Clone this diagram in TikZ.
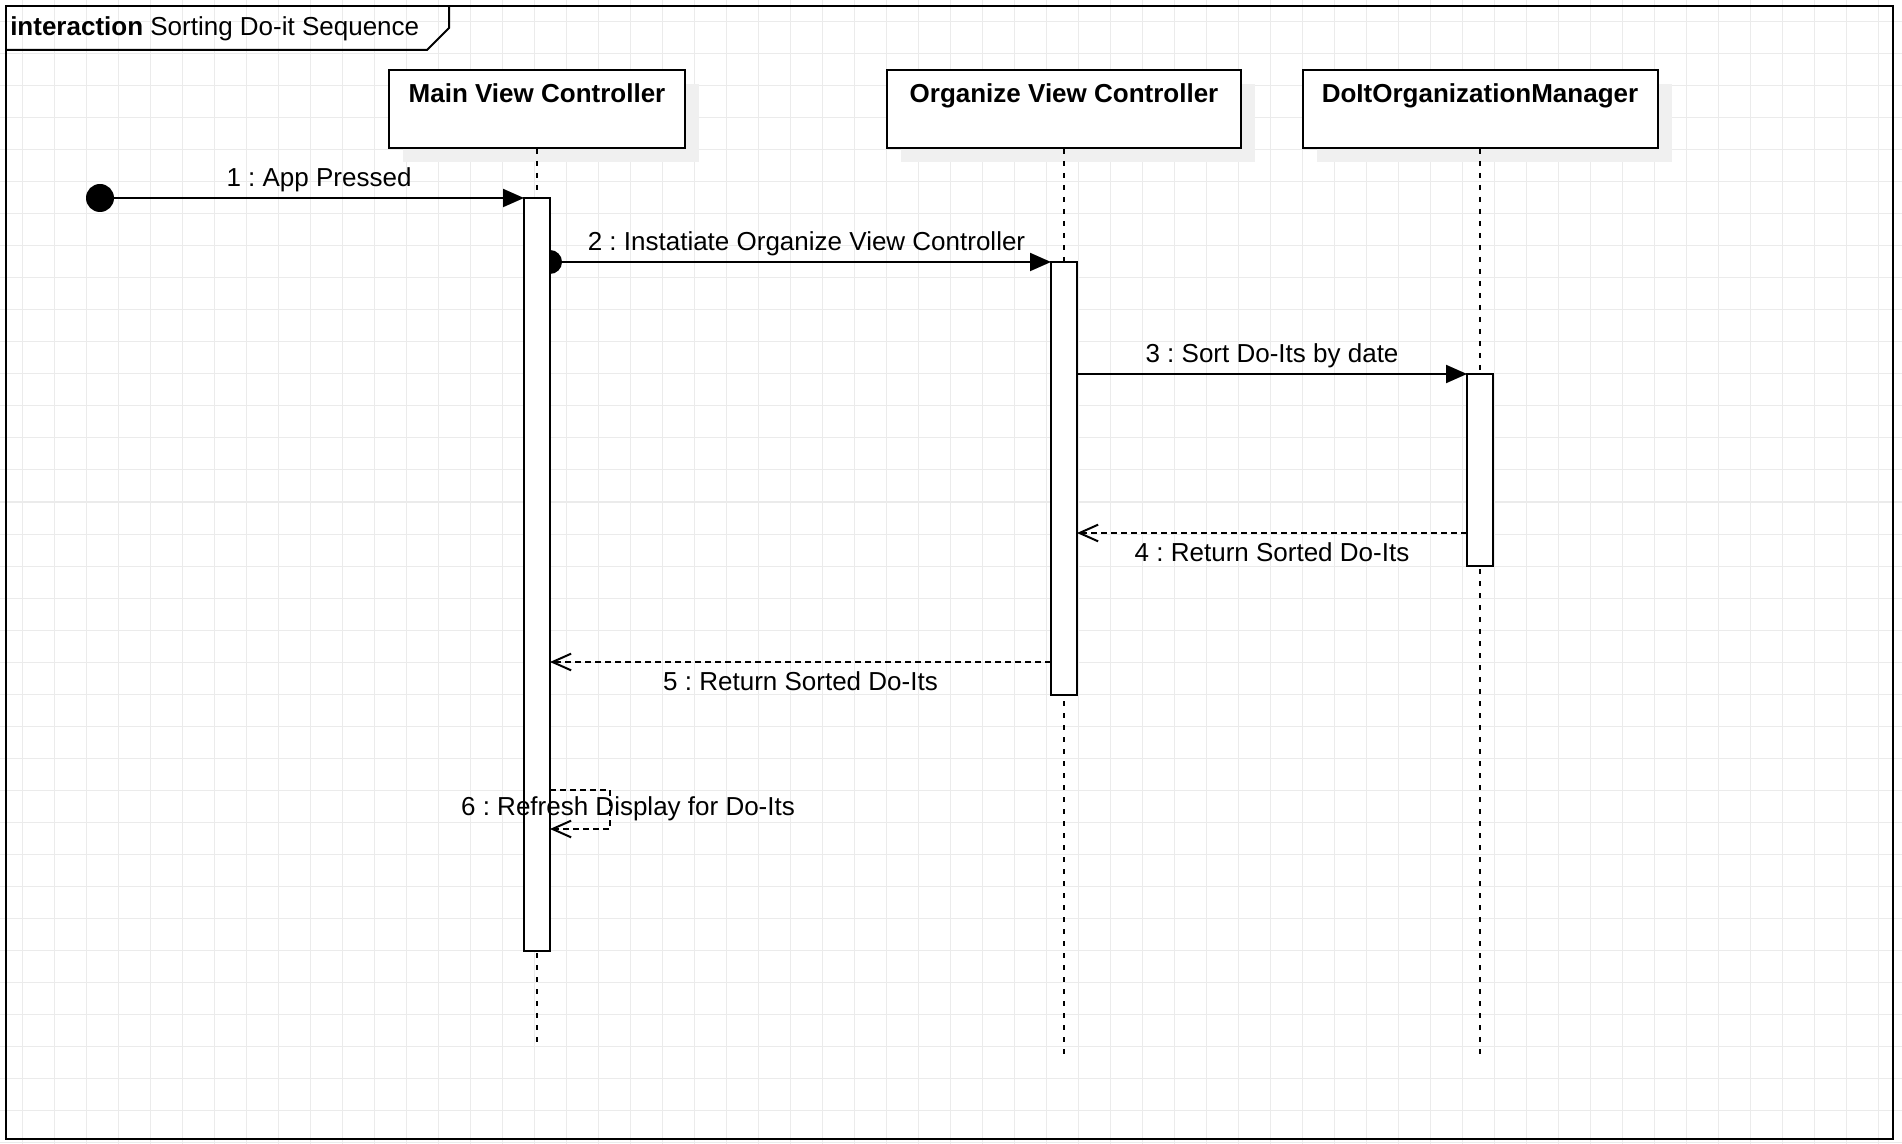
\documentclass[tikz,border=0pt]{standalone}
\usepackage{fontspec}
\setmainfont{Liberation Sans}
\usetikzlibrary{arrows.meta}
\usetikzlibrary{shadows}
\frenchspacing

\definecolor{gridgray}{RGB}{235,235,235}
\definecolor{shadowgray}{RGB}{240,240,240}
\newcommand{\diafont}{\fontsize{19.5}{23}\selectfont}

\begin{document}
\begin{tikzpicture}[x=0.75pt,y=0.75pt,yscale=-1,xscale=1,
  every node/.style={font=\diafont},
  gridline/.style={draw=gridgray, line width=0.75pt},
  lifebox/.style={draw, line width=1.5pt, fill=white, inner sep=0pt, minimum height=58.5pt,
    general shadow={fill=shadowgray, shadow xshift=10.5pt, shadow yshift=-10.5pt}},
  boxname/.style={anchor=base, font=\diafont\bfseries},
  actbox/.style={draw, line width=1.5pt, fill=white, inner sep=0pt, outer sep=0pt, minimum width=19.5pt},
  lifeline/.style={line width=1.1pt, dash pattern=on 3.75pt off 5.25pt},
  dot/.style={circle, fill, inner sep=0pt, outer sep=0pt, minimum size=#1},
  syncmsg/.style={line width=1.5pt, -{Triangle[length=15.75pt,width=13.5pt]}},
  replymsg/.style={line width=1.5pt, dash pattern=on 4.5pt off 3pt, -{Straight Barb[length=14pt,width=12.5pt]}},
  msgabove/.style={anchor=base, yshift=8.25pt},
  msgbelow/.style={anchor=base, yshift=-21pt}
]
\useasboundingbox (0,0) rectangle (1902,1144);

% grid
\foreach \g in {22,54,...,1902} \draw[gridline] (\g,0) -- (\g,1144);
\foreach \g in {22,54,...,1144} \draw[gridline] (0,\g) -- (1902,\g);

% frame and title tab
\draw[line width=1.5pt] (6,6) rectangle (1893,1139);
\draw[line width=1.5pt] (6,50) -- (427,50) -- (449,28) -- (449,6);
\node[anchor=base west, inner sep=0pt] (title) at (10,36) {\textbf{interaction} Sorting Do-it Sequence};

% lifeline heads
\node[lifebox, minimum width=222pt] (mvc) at (537,109) {};
\node[lifebox, minimum width=265.5pt] (ovc) at (1064,109) {};
\node[lifebox, minimum width=266.25pt] (dom) at (1480,109) {};
\node[boxname] (mvcName) at ([yshift=25.5pt]mvc.north) {Main View Controller};
\node[boxname] (ovcName) at ([yshift=25.5pt]ovc.north) {Organize View Controller};
\node[boxname] (domName) at ([yshift=25.5pt]dom.north) {DoItOrganizationManager};

% lifelines
\coordinate (mvcEnd) at (537,1045);
\coordinate (ovcEnd) at (1064,1055);
\coordinate (domEnd) at (1480,1057);
\draw[lifeline] (mvc.south) -- (mvcEnd);
\draw[lifeline] (ovc.south) -- (ovcEnd);
\draw[lifeline] (dom.south) -- (domEnd);

% found message start, create dot
\node[dot=21pt] (start) at (100,198) {};
\node[dot=18pt] (dot2) at (550,262) {};

% activations
\node[actbox, minimum height=564.75pt] (mvcAct) at (537,574.5) {};
\node[actbox, minimum height=324.75pt] (ovcAct) at (1064,478.5) {};
\node[actbox, minimum height=144pt] (domAct) at (1480,470) {};

% messages
\draw[syncmsg] (start) -- node[msgabove] {1 : App Pressed} (mvcAct.north west);
\draw[syncmsg] (dot2) -- node[msgabove] {2 : Instatiate Organize View Controller} (ovcAct.north west);
\draw[syncmsg] (ovcAct.east |- domAct.north) -- node[msgabove] {3 : Sort Do-Its by date} (domAct.north west);
\draw[replymsg] (domAct.west |- 0,533) -- node[msgbelow] {4 : Return Sorted Do-Its} (ovcAct.east |- 0,533);
\draw[replymsg] (ovcAct.west |- 0,662) -- node[msgbelow] {5 : Return Sorted Do-Its} (mvcAct.east |- 0,662);

% self message
\coordinate (selfTop) at (610,790);
\coordinate (selfBot) at (610,829);
\draw[replymsg] (mvcAct.east |- selfTop) -- (selfTop) -- (selfBot) -- (mvcAct.east |- selfBot);
\node[anchor=base] (selfLabel) at (628,815) {6 : Refresh Display for Do-Its};

\end{tikzpicture}
\end{document}
